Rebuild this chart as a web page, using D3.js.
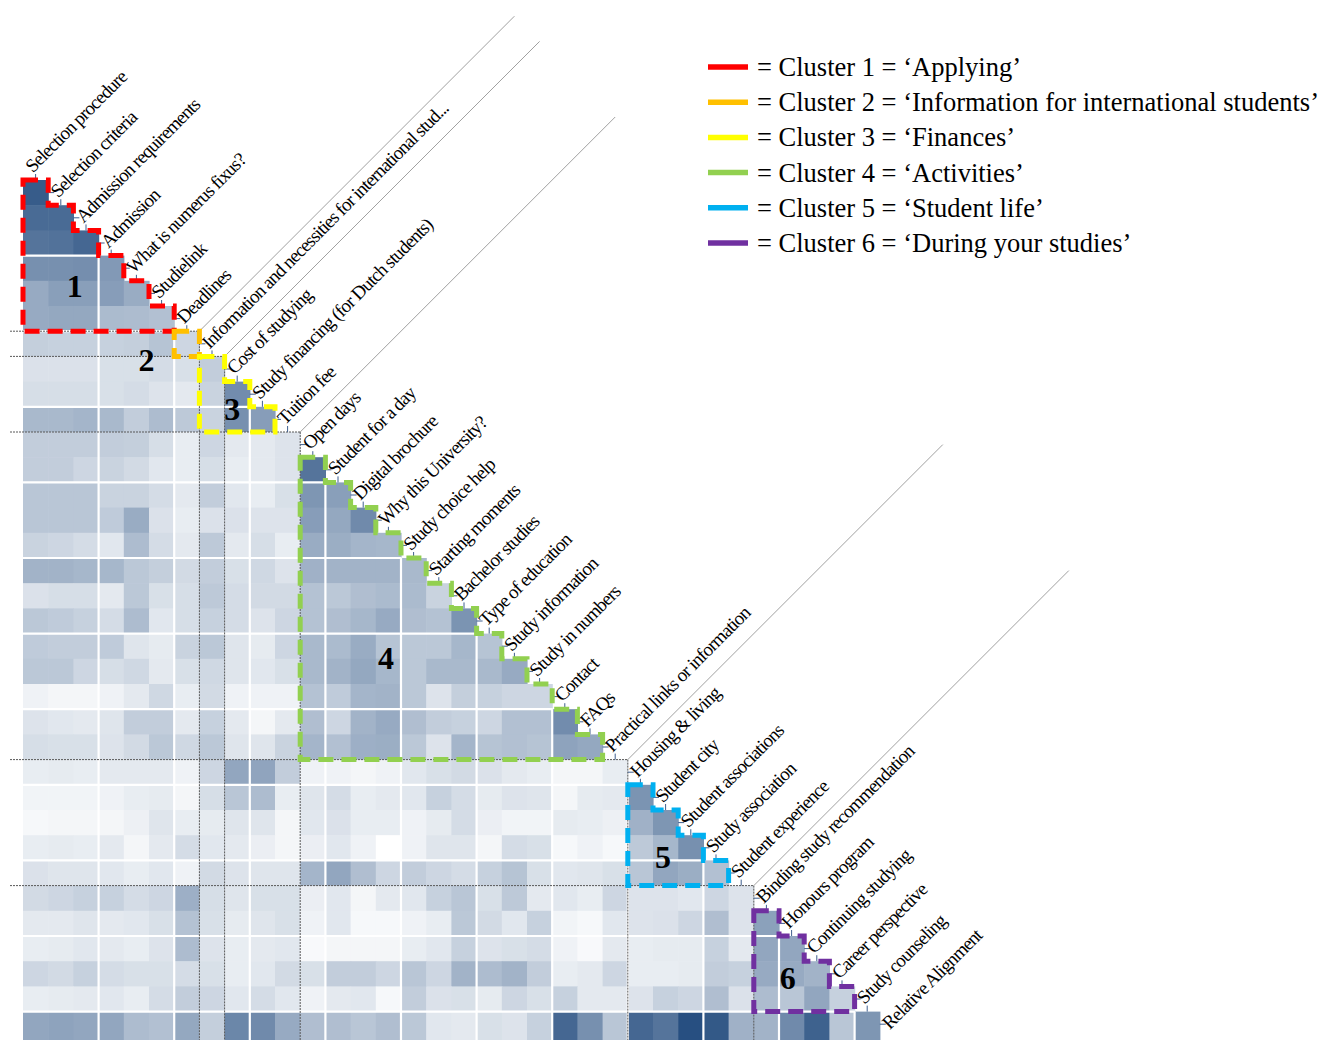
<!DOCTYPE html>
<html>
<head>
<meta charset="utf-8">
<script src="https://cdn.jsdelivr.net/npm/d3@7"></script>
<style>
  html, body { margin: 0; padding: 0; background: #ffffff; }
  svg { display: block; font-family: "Liberation Serif", "Times New Roman", serif; }
</style>
</head>
<body>
<svg id="chart" width="1325" height="1040"></svg>
<script>
// Website topics, in matrix order
const labels = [
  "Selection procedure", "Selection criteria", "Admission requirements", "Admission",
  "What is numerus fixus?", "Studielink", "Deadlines",
  "Information and necessities for international stud...",
  "Cost of studying", "Study financing (for Dutch students)", "Tuition fee",
  "Open days", "Student for a day", "Digital brochure", "Why this University?",
  "Study choice help", "Starting moments", "Bachelor studies", "Type of education",
  "Study information", "Study in numbers", "Contact", "FAQs",
  "Practical links or information",
  "Housing & living", "Student city", "Student associations", "Study association",
  "Student experience",
  "Binding study recommendation", "Honours program", "Continuing studying",
  "Career perspective", "Study counseling",
  "Relative Alignment"
];

// Cluster membership per topic (0 = not part of a cluster)
const clusterOf = [
  1, 1, 1, 1, 1, 1, 1,
  2,
  3, 3, 3,
  4, 4, 4, 4, 4, 4, 4, 4, 4, 4, 4, 4, 4,
  5, 5, 5, 5, 5,
  6, 6, 6, 6, 6,
  0
];

const clusterTitles = [
  "Applying", "Information for international students", "Finances",
  "Activities", "Student life", "During your studies"
];

// Lower-triangle similarity: row r holds topic r+1 against topics 0..r
const similarity = [
  [0.88],
  [0.80, 0.80],
  [0.75, 0.76, 0.82],
  [0.60, 0.60, 0.61, 0.55],
  [0.46, 0.52, 0.52, 0.53, 0.45],
  [0.46, 0.47, 0.47, 0.37, 0.36, 0.34],
  [0.26, 0.25, 0.25, 0.25, 0.26, 0.32, 0.22],
  [0.16, 0.16, 0.16, 0.17, 0.17, 0.19, 0.17, 0.27],
  [0.18, 0.18, 0.18, 0.17, 0.19, 0.15, 0.12, 0.24, 0.62],
  [0.38, 0.38, 0.40, 0.38, 0.27, 0.36, 0.29, 0.24, 0.60, 0.53],
  [0.27, 0.27, 0.27, 0.27, 0.26, 0.18, 0.10, 0.22, 0.12, 0.12, 0.15],
  [0.27, 0.27, 0.22, 0.24, 0.20, 0.13, 0.10, 0.18, 0.10, 0.12, 0.15, 0.75],
  [0.31, 0.31, 0.31, 0.24, 0.24, 0.19, 0.12, 0.27, 0.13, 0.10, 0.17, 0.57, 0.52],
  [0.31, 0.31, 0.31, 0.28, 0.45, 0.16, 0.10, 0.16, 0.16, 0.15, 0.15, 0.53, 0.47, 0.63],
  [0.24, 0.22, 0.19, 0.13, 0.36, 0.19, 0.12, 0.29, 0.12, 0.18, 0.10, 0.45, 0.44, 0.40, 0.39],
  [0.41, 0.41, 0.39, 0.39, 0.30, 0.26, 0.20, 0.27, 0.17, 0.21, 0.15, 0.42, 0.41, 0.41, 0.41, 0.38],
  [0.16, 0.18, 0.18, 0.12, 0.30, 0.17, 0.18, 0.29, 0.19, 0.20, 0.20, 0.33, 0.30, 0.35, 0.37, 0.37, 0.24],
  [0.30, 0.28, 0.25, 0.19, 0.36, 0.13, 0.18, 0.25, 0.19, 0.15, 0.22, 0.33, 0.35, 0.39, 0.46, 0.35, 0.33, 0.58],
  [0.28, 0.27, 0.27, 0.28, 0.14, 0.11, 0.24, 0.30, 0.14, 0.11, 0.22, 0.38, 0.37, 0.45, 0.32, 0.30, 0.30, 0.39, 0.32],
  [0.30, 0.30, 0.22, 0.18, 0.21, 0.12, 0.17, 0.21, 0.14, 0.13, 0.17, 0.38, 0.41, 0.47, 0.39, 0.30, 0.38, 0.38, 0.38, 0.46],
  [0.07, 0.05, 0.05, 0.07, 0.12, 0.21, 0.10, 0.20, 0.07, 0.07, 0.07, 0.33, 0.28, 0.40, 0.41, 0.30, 0.15, 0.26, 0.25, 0.22, 0.22],
  [0.15, 0.13, 0.12, 0.14, 0.27, 0.27, 0.12, 0.25, 0.12, 0.05, 0.12, 0.35, 0.22, 0.41, 0.46, 0.35, 0.27, 0.25, 0.22, 0.34, 0.34, 0.62],
  [0.18, 0.17, 0.17, 0.15, 0.20, 0.30, 0.21, 0.30, 0.14, 0.14, 0.24, 0.40, 0.34, 0.43, 0.44, 0.30, 0.15, 0.40, 0.32, 0.34, 0.32, 0.50, 0.47],
  [0.10, 0.11, 0.10, 0.12, 0.12, 0.12, 0.07, 0.22, 0.48, 0.49, 0.27, 0.07, 0.07, 0.05, 0.07, 0.13, 0.17, 0.20, 0.16, 0.12, 0.10, 0.05, 0.05, 0.10],
  [0.06, 0.06, 0.06, 0.07, 0.10, 0.11, 0.05, 0.18, 0.31, 0.36, 0.10, 0.14, 0.19, 0.10, 0.12, 0.13, 0.25, 0.19, 0.11, 0.15, 0.14, 0.05, 0.11, 0.12, 0.58],
  [0.04, 0.05, 0.05, 0.05, 0.08, 0.14, 0.10, 0.11, 0.14, 0.14, 0.05, 0.13, 0.16, 0.10, 0.10, 0.07, 0.11, 0.19, 0.09, 0.06, 0.06, 0.11, 0.10, 0.08, 0.42, 0.57],
  [0.10, 0.11, 0.10, 0.12, 0.05, 0.12, 0.19, 0.13, 0.12, 0.09, 0.05, 0.09, 0.13, 0.07, 0.00, 0.07, 0.14, 0.14, 0.05, 0.19, 0.17, 0.04, 0.07, 0.04, 0.29, 0.39, 0.60],
  [0.16, 0.14, 0.14, 0.13, 0.10, 0.13, 0.07, 0.20, 0.15, 0.14, 0.14, 0.40, 0.48, 0.35, 0.22, 0.27, 0.22, 0.19, 0.25, 0.32, 0.17, 0.13, 0.14, 0.17, 0.31, 0.48, 0.44, 0.34],
  [0.20, 0.22, 0.25, 0.25, 0.19, 0.22, 0.43, 0.18, 0.14, 0.17, 0.17, 0.09, 0.13, 0.05, 0.12, 0.13, 0.25, 0.31, 0.17, 0.29, 0.12, 0.13, 0.10, 0.22, 0.15, 0.15, 0.13, 0.22, 0.15],
  [0.12, 0.12, 0.14, 0.12, 0.13, 0.17, 0.33, 0.17, 0.11, 0.14, 0.17, 0.07, 0.13, 0.04, 0.04, 0.07, 0.10, 0.30, 0.20, 0.13, 0.25, 0.06, 0.04, 0.13, 0.15, 0.16, 0.22, 0.35, 0.15, 0.51],
  [0.10, 0.11, 0.13, 0.12, 0.10, 0.15, 0.36, 0.15, 0.10, 0.12, 0.13, 0.03, 0.05, 0.05, 0.05, 0.10, 0.13, 0.25, 0.15, 0.17, 0.19, 0.07, 0.03, 0.12, 0.10, 0.11, 0.11, 0.25, 0.12, 0.48, 0.48],
  [0.22, 0.20, 0.25, 0.19, 0.17, 0.17, 0.19, 0.17, 0.10, 0.13, 0.20, 0.17, 0.27, 0.27, 0.22, 0.31, 0.22, 0.41, 0.36, 0.41, 0.27, 0.10, 0.12, 0.22, 0.10, 0.10, 0.11, 0.27, 0.25, 0.46, 0.46, 0.41],
  [0.10, 0.11, 0.12, 0.13, 0.10, 0.19, 0.27, 0.22, 0.13, 0.19, 0.13, 0.07, 0.12, 0.13, 0.04, 0.27, 0.16, 0.17, 0.11, 0.22, 0.17, 0.25, 0.12, 0.12, 0.15, 0.25, 0.22, 0.35, 0.16, 0.36, 0.31, 0.48, 0.25],
  [0.48, 0.50, 0.48, 0.48, 0.36, 0.34, 0.47, 0.26, 0.65, 0.63, 0.46, 0.35, 0.35, 0.31, 0.35, 0.30, 0.13, 0.12, 0.17, 0.15, 0.25, 0.82, 0.60, 0.31, 0.82, 0.75, 0.95, 0.90, 0.42, 0.41, 0.63, 0.85, 0.31, 0.57]
];

// ---- layout and styling ----
const W = 1325, H = 1040;
const cellSize = 25.2;
const gridLeft = 23, gridTop = 180;
const n = labels.length;
const clusterColors = ["#ff0000", "#ffc000", "#ffff00", "#92d050", "#00b0f0", "#7030a0"];
// where each cluster number sits, in cell units (column, row) from the grid origin
const clusterMarkCells = [[2.05, 4.2], [4.9, 7.15], [8.3, 9.1], [14.4, 18.95], [25.4, 26.85], [30.35, 31.65]];

const svg = d3.select("#chart");

const x = d3.scaleBand().domain(labels.slice(0, n - 1))
  .range([gridLeft, gridLeft + cellSize * (n - 1)]).padding(0);
const y = d3.scaleBand().domain(labels.slice(1))
  .range([gridTop, gridTop + cellSize * (n - 1)]).padding(0);
const bw = x.bandwidth();
const colEdge = k => x.range()[0] + k * x.step();       // left edge of column k
const rowEdge = k => y.range()[0] + (k - 1) * y.step(); // top edge of row k

const color = d3.scaleLinear().domain([0, 1])
  .range(["#ffffff", "#1c467a"]).interpolate(d3.interpolateRgb);

// ---- cells ----
const cells = [];
similarity.forEach((vals, r) => vals.forEach((v, c) => {
  cells.push({ row: labels[r + 1], col: labels[c], v });
}));

svg.append("g").attr("class", "cells")
  .selectAll("rect").data(cells).join("rect")
  .attr("x", d => x(d.col))
  .attr("y", d => y(d.row))
  .attr("width", bw + 0.6)
  .attr("height", d => y(d.row) === rowEdge(n - 1) ? H - y(d.row) : y.bandwidth() + 0.6)
  .attr("fill", d => color(d.v));

// ---- white separators every third row / column ----
const sep = svg.append("g").attr("stroke", "#ffffff").attr("stroke-width", 2.2);
for (let b = 3; b < n - 1; b += 3) {
  sep.append("line")
    .attr("x1", colEdge(0)).attr("x2", colEdge(b) + 0.6)
    .attr("y1", rowEdge(b + 1)).attr("y2", rowEdge(b + 1));
  sep.append("line")
    .attr("x1", colEdge(b)).attr("x2", colEdge(b))
    .attr("y1", rowEdge(b + 1)).attr("y2", H);
}

// ---- cluster boundaries: dotted guides and diagonal leader lines ----
const boundaries = d3.range(1, n).filter(k => clusterOf[k] !== clusterOf[k - 1] && clusterOf[k] !== 0);
const guides = svg.append("g");
boundaries.forEach(b => {
  const cx = colEdge(b), cy = rowEdge(b);
  guides.append("line").attr("x1", 10).attr("x2", cx).attr("y1", cy).attr("y2", cy)
    .attr("stroke", "#595959").attr("stroke-width", 1).attr("stroke-dasharray", "2,1");
  guides.append("line").attr("x1", cx).attr("x2", cx).attr("y1", cy).attr("y2", H)
    .attr("stroke", "#595959").attr("stroke-width", 1).attr("stroke-dasharray", "2,1");
  guides.append("line").attr("x1", cx).attr("y1", cy).attr("x2", cx + 315).attr("y2", cy - 315)
    .attr("stroke", "#a0a0a0").attr("stroke-width", 1);
});

// ---- axis ticks and diagonal topic labels ----
const ticks = svg.append("g").attr("stroke", "#3e5f8f").attr("stroke-width", 1);
labels.forEach((name, k) => {
  if (k >= 1) {
    const ry = rowEdge(k) + cellSize / 2;
    ticks.append("line").attr("x1", colEdge(k)).attr("x2", colEdge(k) + 6)
      .attr("y1", ry).attr("y2", ry);
  }
  if (k <= n - 2) {
    const tx = x(name) + bw / 2;
    ticks.append("line").attr("x1", tx).attr("x2", tx)
      .attr("y1", rowEdge(k + 1) - 6).attr("y2", rowEdge(k + 1));
  }
});

svg.append("g").selectAll("text").data(labels).join("text")
  .attr("transform", (d, k) => {
    const ax = colEdge(k) + 10;
    const ay = rowEdge(k) + cellSize / 2 + 6;
    return `translate(${ax},${ay}) rotate(-45)`;
  })
  .attr("font-size", 19)
  .attr("letter-spacing", "-0.9px")
  .attr("fill", "#000")
  .text(d => d);

// ---- cluster outlines (staircase) ----
const clusters = d3.range(1, 7).map(c => {
  const members = d3.range(n).filter(k => clusterOf[k] === c);
  return { id: c, first: members[0], last: members[members.length - 1] };
});

const outlines = svg.append("g").attr("fill", "none");
clusters.forEach(cl => {
  const size = cl.last - cl.first + 1;
  const shift = size <= 3 ? 1 : 0;   // small groups are outlined one step up the diagonal
  const rs = cl.first + 1 - shift, cs = cl.first - shift;
  const steps = cl.last - rs + 1;
  const x0 = colEdge(cs), y0 = rowEdge(rs);
  const p = d3.path();
  p.moveTo(x0, y0);
  for (let i = 0; i < steps; i++) {
    p.lineTo(x0 + (i + 1) * cellSize, y0 + i * cellSize);
    p.lineTo(x0 + (i + 1) * cellSize, y0 + (i + 1) * cellSize);
  }
  p.lineTo(x0, y0 + steps * cellSize);
  p.closePath();
  outlines.append("path").attr("d", p.toString())
    .attr("stroke", clusterColors[cl.id - 1])
    .attr("stroke-width", 5)
    .attr("stroke-dasharray", "15,8");
});

// ---- cluster numbers ----
svg.append("g").selectAll("text").data(clusters).join("text")
  .attr("x", d => gridLeft + clusterMarkCells[d.id - 1][0] * cellSize)
  .attr("y", d => gridTop + clusterMarkCells[d.id - 1][1] * cellSize)
  .attr("text-anchor", "middle")
  .attr("dominant-baseline", "central")
  .attr("font-size", 32)
  .attr("font-weight", "bold")
  .attr("fill", "#000")
  .text(d => d.id);

// ---- legend ----
const legend = svg.append("g");
clusterTitles.forEach((t, i) => {
  const ly = 67 + i * 35.2;
  legend.append("line").attr("x1", 708).attr("x2", 748).attr("y1", ly).attr("y2", ly)
    .attr("stroke", clusterColors[i]).attr("stroke-width", 5.5);
  legend.append("text").attr("x", 757).attr("y", ly + 9)
    .attr("font-size", 26.5).attr("fill", "#000")
    .text(`= Cluster ${i + 1} = \u2018${t}\u2019`);
});
</script>
</body>
</html>
